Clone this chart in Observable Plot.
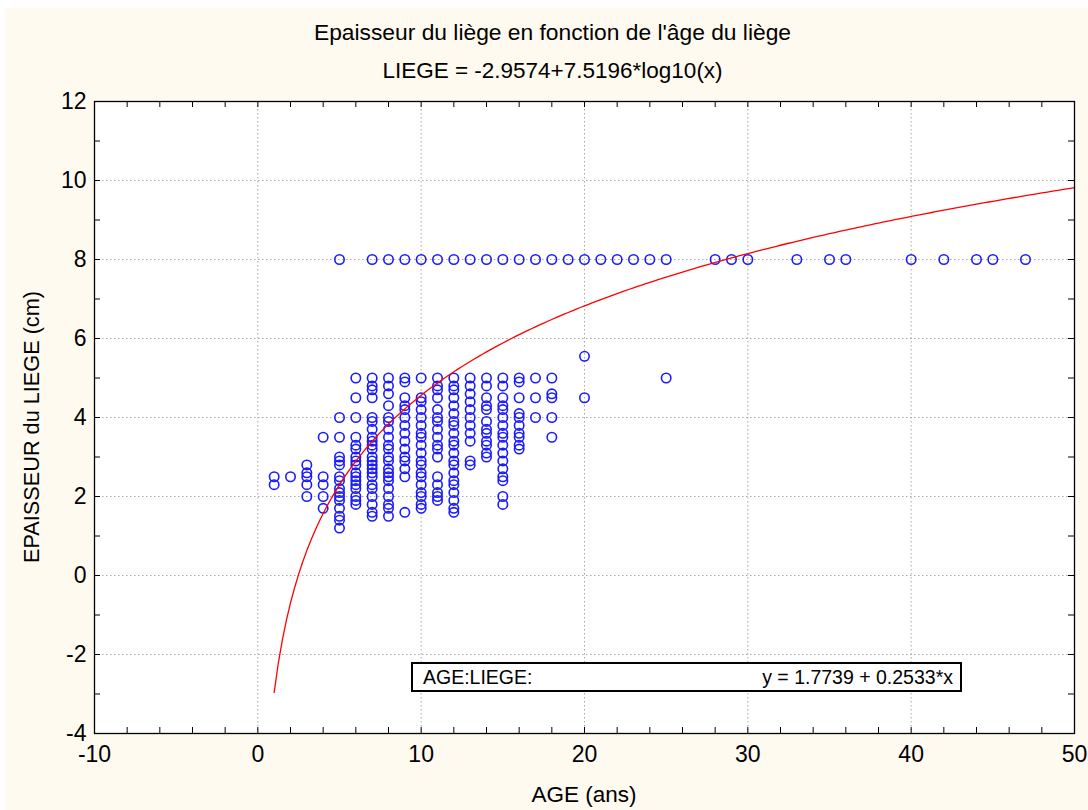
<!DOCTYPE html>
<html>
<head>
<meta charset="utf-8">
<script src="https://cdn.jsdelivr.net/npm/d3@7"></script>
<script src="https://cdn.jsdelivr.net/npm/@observablehq/plot@0.6"></script>
<style>
  body { margin: 0; background: #ffffff; }
  #wrap { position: absolute; left: 5px; top: 8px; width: 1083px; height: 802px; background: #fffaef;
          font-family: "Liberation Sans", Arial, sans-serif; color: #000; }
  .ttl { position: absolute; left: 6px; width: 1083px; text-align: center; line-height: 24px; }
  #chart { position: absolute; left: 0; top: 60px; }
  #xlab { position: absolute; left: 479px; width: 200px; top: 775px; text-align: center; font-size: 22.5px; line-height: 24px; }
  #ylab { position: absolute; left: 27px; top: 419px; width: 0; height: 0; }
  #ylab span { position: absolute; left: 0; top: 0; white-space: nowrap; font-size: 21.7px; line-height: 24px;
               transform: translate(-50%, -50%) rotate(-90deg); }
  #legend { position: absolute; left: 406px; top: 654px; width: 551px; height: 30px; box-sizing: border-box;
            border: 2px solid #000; background: #fff; font-size: 19.5px; line-height: 26px; }
  #legend .l { position: absolute; left: 10px; top: 0; }
  #legend .r { position: absolute; right: 7px; top: 0; }
</style>
</head>
<body>
<div id="wrap">
  <div id="chart"></div>
  <div class="ttl" style="top:12px;font-size:22.8px">Epaisseur du liège en fonction de l'âge du liège</div>
  <div class="ttl" style="top:51px;font-size:22.5px">LIEGE = -2.9574+7.5196*log10(x)</div>
  <div id="xlab">AGE (ans)</div>
  <div id="ylab"><span>EPAISSEUR du LIEGE (cm)</span></div>
  <div id="legend"><span class="l">AGE:LIEGE:</span><span class="r">y = 1.7739 + 0.2533*x</span></div>
</div>
<script>
// ---- data ----
const clusterAges = [1, 2, 3, 4, 5, 6, 7, 8, 9, 10, 11, 12, 13, 14, 15, 16, 17, 18, 20, 25];
const clusterThickness = [
  [2.5, 2.3],
  [2.5],
  [2.8, 2.6, 2.5, 2.3, 2.0],
  [3.5, 2.5, 2.3, 2.0, 1.7],
  [4.0, 3.5, 3.0, 2.9, 2.8, 2.5, 2.4, 2.2, 2.1, 2.0, 1.9, 1.7, 1.5, 1.4, 1.2],
  [5.0, 4.5, 4.0, 3.5, 3.3, 3.2, 3.0, 2.9, 2.8, 2.6, 2.5, 2.4, 2.3, 2.2, 2.0, 1.9, 1.8],
  [5.0, 4.8, 4.7, 4.5, 4.0, 3.9, 3.7, 3.5, 3.4, 3.3, 3.2, 3.0, 2.9, 2.8, 2.7, 2.6, 2.5, 2.3, 2.2, 2.0, 1.8, 1.6, 1.5],
  [5.0, 4.8, 4.6, 4.3, 4.0, 3.9, 3.7, 3.5, 3.3, 3.2, 3.0, 2.9, 2.7, 2.6, 2.5, 2.4, 2.2, 2.0, 1.8, 1.7, 1.5],
  [5.0, 4.9, 4.5, 4.3, 4.2, 4.0, 3.8, 3.6, 3.4, 3.2, 3.0, 2.9, 2.7, 2.5, 1.6],
  [5.0, 4.5, 4.4, 4.2, 4.0, 3.8, 3.6, 3.5, 3.3, 3.1, 2.9, 2.8, 2.6, 2.5, 2.3, 2.1, 2.0, 1.8, 1.7],
  [5.0, 4.8, 4.7, 4.5, 4.2, 4.0, 3.9, 3.7, 3.5, 3.3, 3.2, 3.0, 2.5, 2.3, 2.1, 2.0, 1.9],
  [5.0, 4.8, 4.7, 4.5, 4.3, 4.1, 3.9, 3.8, 3.6, 3.4, 3.3, 3.1, 2.9, 2.8, 2.6, 2.4, 2.3, 2.1, 1.9, 1.7, 1.6],
  [5.0, 4.8, 4.6, 4.4, 4.2, 4.0, 3.8, 3.6, 3.4, 2.9, 2.8],
  [5.0, 4.8, 4.5, 4.3, 4.2, 3.9, 3.7, 3.6, 3.4, 3.3, 3.1, 3.0],
  [5.0, 4.8, 4.5, 4.3, 4.2, 4.0, 3.8, 3.6, 3.5, 3.3, 3.1, 2.9, 2.7, 2.5, 2.4, 2.0, 1.8],
  [5.0, 4.9, 4.5, 4.1, 4.0, 3.8, 3.6, 3.5, 3.3, 3.2],
  [5.0, 4.5, 4.0],
  [5.0, 4.6, 4.5, 4.0, 3.5],
  [5.55, 4.5],
  [5.0]
];
const cappedAges = [5, 7, 8, 9, 10, 11, 12, 13, 14, 15, 16, 17, 18, 19, 20, 21, 22, 23, 24, 25,
                    28, 29, 30, 33, 35, 36, 40, 42, 44, 45, 47];
const cappedThickness = 8;

// fitted model shown in the subtitle: LIEGE = a + b*log10(AGE)
const fitIntercept = -2.9574;
const fitSlope = 7.5196;
const fitAgeRange = [1, 50];

const xMajorTicks = [-10, 0, 10, 20, 30, 40, 50];
const yMajorTicks = [-4, -2, 0, 2, 4, 6, 8, 10, 12];
const xMinorTicks = d3.range(-10, 51, 2);
const yMinorTicks = d3.range(-4, 13, 1);

// ---- build tables ----
const points = [];
clusterAges.forEach((a, i) => clusterThickness[i].forEach(v => points.push({age: a, liege: v})));
cappedAges.forEach(a => points.push({age: a, liege: cappedThickness}));
const curve = d3.range(fitAgeRange[0], fitAgeRange[1] + 0.001, 0.25)
  .map(a => ({age: a, liege: fitIntercept + fitSlope * Math.log10(a)}));

const W = 1083, H = 742, mL = 89, mR = 14, mT = 33, mB = 77;
const innerW = W - mL - mR, innerH = H - mT - mB;
const tick = 6;
const fmt = d => String(d);

const chart = Plot.plot({
  width: W, height: H,
  marginLeft: mL, marginRight: mR, marginTop: mT, marginBottom: mB,
  style: {background: "transparent", fontFamily: "Liberation Sans, Arial, sans-serif", color: "#000"},
  x: {domain: [-10, 50], label: null},
  y: {domain: [-4, 12], label: null},
  marks: [
    Plot.frame({fill: "#ffffff", stroke: null}),
    Plot.ruleX(xMajorTicks, {x: d => d, stroke: "#a8a8a8", strokeDasharray: "1.5,2.5", strokeWidth: 1}),
    Plot.ruleY(yMajorTicks, {y: d => d, stroke: "#a8a8a8", strokeDasharray: "1.5,2.5", strokeWidth: 1}),
    Plot.dot(points, {x: "age", y: "liege", r: 4.7, stroke: "#1a1aff", strokeWidth: 1.6, fill: "none"}),
    Plot.line(curve, {x: "age", y: "liege", stroke: "#ff0000", strokeWidth: 1.3}),
    Plot.tickX(xMinorTicks, {x: d => d, insetTop: innerH - tick, stroke: "#000"}),
    Plot.tickX(xMinorTicks, {x: d => d, insetBottom: innerH - tick, stroke: "#000"}),
    Plot.tickY(yMinorTicks, {y: d => d, insetRight: innerW - tick, stroke: "#000"}),
    Plot.tickY(yMinorTicks, {y: d => d, insetLeft: innerW - tick, stroke: "#000"}),
    Plot.frame({stroke: "#000", strokeWidth: 1.3}),
    Plot.axisX(xMajorTicks, {tickSize: 0, tickPadding: 12, fontSize: 23, tickFormat: fmt, label: null}),
    Plot.axisY(yMajorTicks, {tickSize: 0, tickPadding: 8, fontSize: 23, tickFormat: fmt, label: null})
  ]
});
document.getElementById("chart").appendChild(chart);
</script>
</body>
</html>
